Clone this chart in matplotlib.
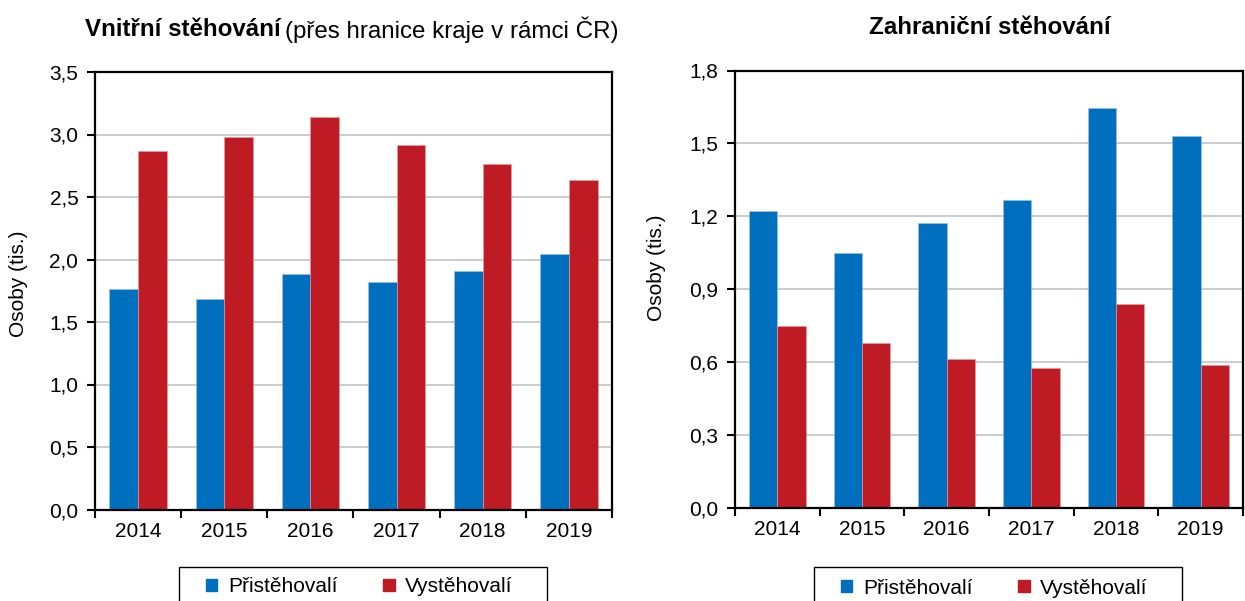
import numpy as np
import matplotlib
matplotlib.use("Agg")
import matplotlib.pyplot as plt
from matplotlib.patches import Patch, Rectangle
from matplotlib.ticker import FuncFormatter, MultipleLocator

plt.rcParams['font.family'] = ['Liberation Sans', 'DejaVu Sans']

# data (tis. osob)
years = ["2014", "2015", "2016", "2017", "2018", "2019"]
vnitrni_prist = [1.765, 1.685, 1.883, 1.819, 1.912, 2.045]
vnitrni_vyst = [2.866, 2.980, 3.144, 2.915, 2.768, 2.640]
zahr_prist = [1.223, 1.048, 1.174, 1.267, 1.647, 1.531]
zahr_vyst = [0.749, 0.680, 0.611, 0.575, 0.839, 0.588]
labels = ["Přistěhovalí", "Vystěhovalí"]

BLUE = "#0070BE"
RED = "#BE1B24"
W, H = 1245, 601

fig = plt.figure(figsize=(W / 100, H / 100), dpi=100)


def px_axes(left, top, right, bottom):
    return fig.add_axes([left / W, 1 - bottom / H, (right - left) / W, (bottom - top) / H])


def draw(ax, prist, vyst, ymax, step):
    x = np.arange(len(years))
    w = 1 / 3
    ax.bar(x - w / 2, prist, w, color=BLUE, edgecolor="#9cc3e6", linewidth=0.4)
    ax.bar(x + w / 2, vyst, w, color=RED, edgecolor="#e8a0a4", linewidth=0.4)
    ax.set_xlim(-0.5, len(years) - 0.5)
    ax.set_ylim(0, ymax)
    ax.yaxis.set_major_locator(MultipleLocator(step))
    ax.yaxis.set_major_formatter(FuncFormatter(lambda v, _: f"{v:.1f}".replace(".", ",")))
    ax.set_xticks(x)
    ax.set_xticklabels(years)
    ax.set_xticks(np.arange(-0.5, len(years)), minor=True)
    ax.tick_params(axis="x", which="major", length=0, pad=9, labelsize=15)
    ax.tick_params(axis="x", which="minor", length=6, width=1.5, direction="out")
    ax.tick_params(axis="y", length=6, width=1.5, pad=6, labelsize=15)
    ax.yaxis.grid(True, color="#c8c8c8", linewidth=1.3)
    ax.set_axisbelow(True)
    for s in ax.spines.values():
        s.set_linewidth(1.6)
        s.set_color("black")


ax1 = px_axes(95, 72, 612, 509.5)
draw(ax1, vnitrni_prist, vnitrni_vyst, 3.5, 0.5)
ax2 = px_axes(735, 70.5, 1243, 507.7)
draw(ax2, zahr_prist, zahr_vyst, 1.8, 0.3)

# titles
fig.text(281 / W, 1 - 30 / H, "Vnitřní stěhování", ha="right", va="center",
         fontsize=17.4, fontweight="bold")
fig.text(285 / W, 1 - 30 / H, "(přes hranice kraje v rámci ČR)", ha="left", va="center",
         fontsize=17.4)
fig.text(990 / W, 1 - 28 / H, "Zahraniční stěhování", ha="center", va="center",
         fontsize=17.4, fontweight="bold")

# y labels
fig.text(19 / W, 1 - 284 / H, "Osoby (tis.)", rotation=90, ha="center", va="center", fontsize=15)
fig.text(657 / W, 1 - 268 / H, "Osoby (tis.)", rotation=90, ha="center", va="center", fontsize=15)

# legends
handles = [Patch(color=BLUE), Patch(color=RED)]
for (bx0, bx1, mx, ty) in [(179, 547, 206, 587), (814, 1182, 841, 588)]:
    fig.patches.append(Rectangle((bx0 / W, 1 - 620 / H), (bx1 - bx0) / W, (620 - 567) / H,
                                 transform=fig.transFigure, fill=False, edgecolor="black",
                                 linewidth=1.0, clip_on=False))
    fig.legend(handles, labels, loc="center left", bbox_to_anchor=(mx / W, 1 - ty / H),
               ncol=2, frameon=False, fontsize=15, handlelength=0.55, handleheight=0.55,
               handletextpad=0.5, columnspacing=2.2, borderpad=0, borderaxespad=0)

fig.savefig("out.png", dpi=100)
